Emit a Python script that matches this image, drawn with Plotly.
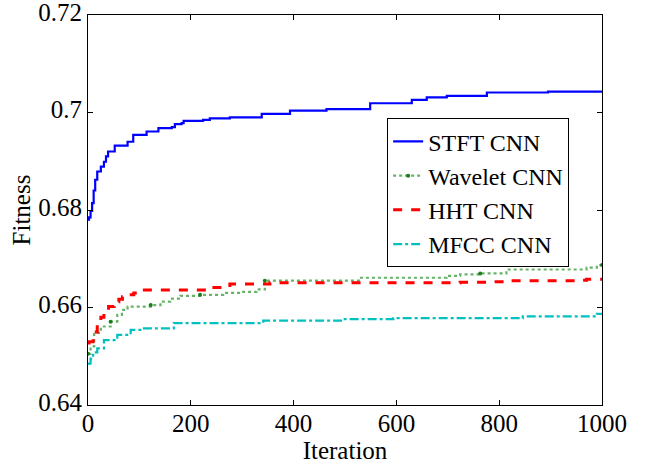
import plotly.graph_objects as go

# ---- data ----
stft_iter = [0, 2, 5, 8, 11, 14, 18, 25, 31, 35, 39, 52, 77, 88, 104, 114, 137, 163, 169, 182, 186,
             224, 237, 276, 338, 393, 464, 549, 630, 659, 698, 776, 895, 1000]
stft_fit = [0.6780, 0.6785, 0.6798, 0.6814, 0.6840, 0.6862, 0.6879, 0.6889, 0.6899, 0.6910, 0.6920,
            0.6932, 0.6940, 0.6954, 0.6954, 0.6961, 0.6968, 0.6970, 0.6976, 0.6978, 0.6983,
            0.6985, 0.6988, 0.6990, 0.6997, 0.7004, 0.7007, 0.7019, 0.7026, 0.7031, 0.7034,
            0.7041, 0.7043, 0.7044]

wav_iter = [0, 5, 12, 25, 44, 57, 66, 77, 122, 141, 160, 180, 218, 263, 296, 328, 344, 529, 698,
            724, 763, 814, 970, 990, 1000]
wav_fit = [0.6505, 0.6520, 0.6548, 0.6561, 0.6571, 0.6585, 0.6595, 0.6602, 0.6605, 0.6612, 0.6618,
           0.6624, 0.6626, 0.6630, 0.6632, 0.6637, 0.6655, 0.6661, 0.6665, 0.6668, 0.6670, 0.6678,
           0.6682, 0.6687, 0.6687]

hht_iter = [0, 2, 10, 18, 25, 31, 40, 51, 60, 67, 78, 89, 96, 231, 276, 354, 724, 782, 814, 951,
            970, 1000]
hht_fit = [0.6527, 0.6530, 0.6550, 0.6568, 0.6580, 0.6591, 0.6602, 0.6612, 0.6617, 0.6622, 0.6626,
           0.6630, 0.6636, 0.6641, 0.6648, 0.6651, 0.6652, 0.6653, 0.6655, 0.6656, 0.6658, 0.6660]

mfcc_iter = [0, 5, 10, 18, 31, 57, 83, 109, 167, 341, 496, 594, 846, 990, 1000]
mfcc_fit = [0.6485, 0.6495, 0.6508, 0.6516, 0.6533, 0.6544, 0.6554, 0.6557, 0.6568, 0.6573, 0.6576,
            0.6578, 0.6582, 0.6587, 0.6588]

names = ["STFT CNN", "Wavelet CNN", "HHT CNN", "MFCC CNN"]
x_ticks = [0, 200, 400, 600, 800, 1000]
y_ticks = [0.64, 0.66, 0.68, 0.70, 0.72]
y_tick_text = ["0.64", "0.66", "0.68", "0.7", "0.72"]

FONT = "Liberation Serif, Times New Roman, serif"

fig = go.Figure()
fig.add_trace(go.Scatter(x=stft_iter, y=stft_fit, name=names[0], mode="lines",
                         line=dict(color="#0000ff", width=2.2, shape="hv")))
fig.add_trace(go.Scatter(x=wav_iter, y=wav_fit, name=names[1], mode="lines+markers",
                         line=dict(color="#66b366", width=2.2, dash="dot", shape="hv"),
                         marker=dict(color="#1a7f1a", size=4, maxdisplayed=8)))
fig.add_trace(go.Scatter(x=hht_iter, y=hht_fit, name=names[2], mode="lines",
                         line=dict(color="#ff0000", width=3, dash="dash", shape="hv")))
fig.add_trace(go.Scatter(x=mfcc_iter, y=mfcc_fit, name=names[3], mode="lines",
                         line=dict(color="#00c0c0", width=2.2, dash="dashdot", shape="hv")))

axis_common = dict(showgrid=False, zeroline=False, showline=True, linecolor="black", linewidth=1,
                   mirror="ticks", ticks="inside", ticklen=5, tickcolor="black", automargin=False,
                   ticklabeloverflow="allow",
                   tickfont=dict(family=FONT, size=25, color="black"))

fig.update_layout(
    width=648, height=465,
    margin=dict(l=88, r=46, t=15, b=60),
    paper_bgcolor="white", plot_bgcolor="white",
    font=dict(family=FONT, size=25, color="black"),
    xaxis=dict(range=[0, 1000], tickvals=x_ticks, ticklabelstandoff=-4,
               title=dict(text="Iteration", font=dict(family=FONT, size=25), standoff=0),
               **axis_common),
    yaxis=dict(range=[0.64, 0.72], tickvals=y_ticks, ticktext=y_tick_text, ticklabelshift=-3,
               title=dict(text="Fitness", font=dict(family=FONT, size=25), standoff=0),
               **axis_common),
    legend=dict(x=0.582, y=0.735, xanchor="left", yanchor="top", bgcolor="white",
                bordercolor="black", borderwidth=1, font=dict(family=FONT, size=24),
                tracegroupgap=0),
    showlegend=True,
)

fig.write_html("out.html", config={"displayModeBar": False},
               post_script="document.body.style.margin='0';")
